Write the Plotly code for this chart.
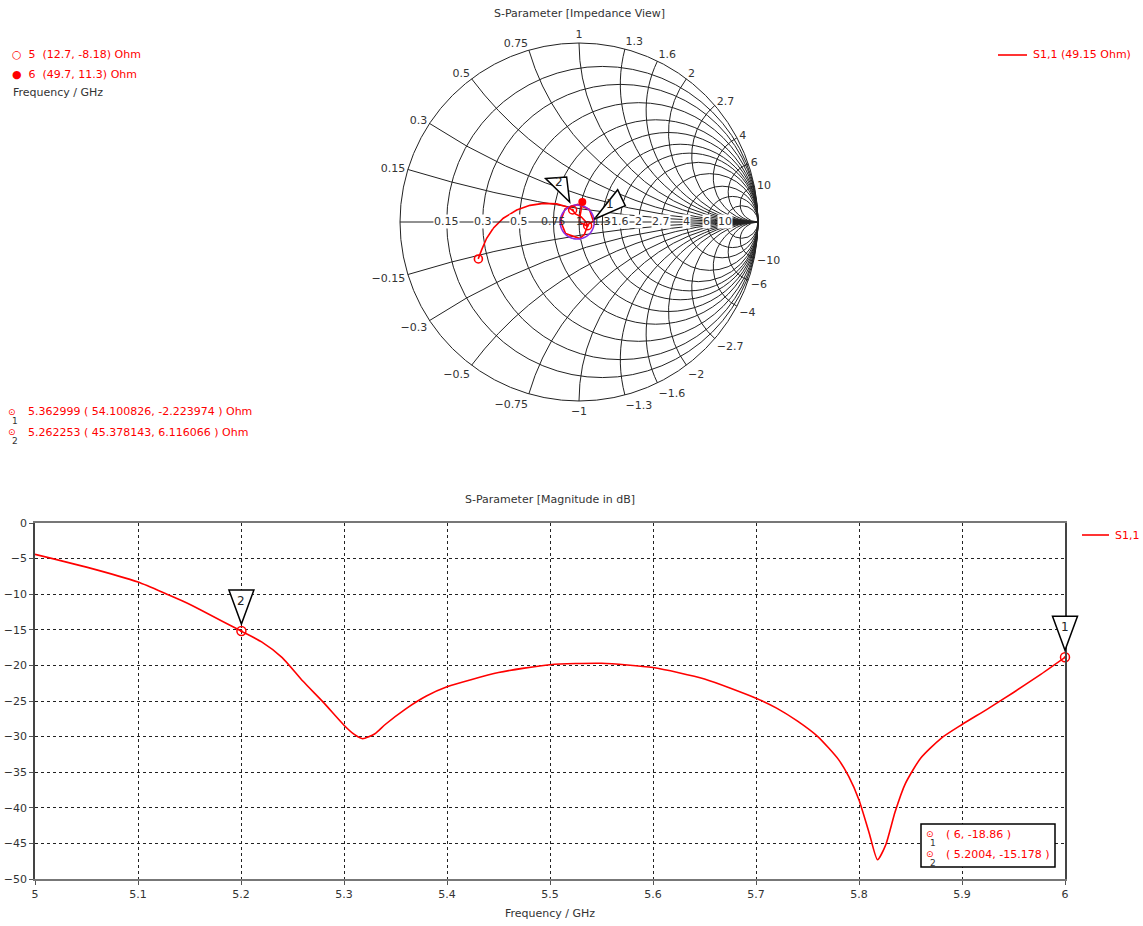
import numpy as np
import plotly.graph_objects as go

W, H = 1143, 926
Z_REF = 49.15
FONT = "DejaVu Sans"
TXT = "#333333"
RED = "#ff0000"

# ---- S1,1 magnitude in dB over the sweep ----
freq_ghz = [5.00, 5.05, 5.10, 5.128, 5.15, 5.20, 5.22, 5.24, 5.26, 5.28, 5.30,
            5.31, 5.318, 5.33, 5.34, 5.36, 5.38, 5.40, 5.45, 5.50, 5.55, 5.60,
            5.65, 5.70, 5.72, 5.74, 5.76, 5.78, 5.79, 5.80, 5.81, 5.818, 5.826,
            5.835, 5.845, 5.86, 5.88, 5.90, 5.925, 5.95, 5.975, 6.00]
s11_db = [-4.4, -6.2, -8.3, -10.0, -11.4, -15.18, -16.7, -18.9, -22.2, -25.2, -28.4,
          -29.7, -30.3, -29.6, -28.3, -26.1, -24.3, -23.0, -21.0, -19.9, -19.7, -20.3,
          -21.9, -24.6, -26.0, -27.8, -30.0, -33.2, -35.6, -38.9, -43.6, -47.3, -45.2,
          -40.6, -36.6, -33.0, -30.2, -28.3, -26.1, -23.8, -21.4, -18.86]

# ---- S1,1 reflection coefficient (real, imag) over the same sweep ----
s11_re = [-0.563, -0.544, -0.516, -0.479, -0.423, -0.348, -0.274, -0.199, -0.125,
          -0.069, -0.0355, -0.020, 0.012, 0.035, 0.048, 0.030, 0.005, -0.075,
          -0.103, -0.078, -0.008, 0.058, 0.080, 0.040, 0.010, 0.003, 0.005,
          0.010, 0.014, 0.018]
s11_im = [-0.206, -0.156, -0.091, -0.035, 0.021, 0.067, 0.093, 0.104, 0.101,
          0.085, 0.067, 0.045, 0.029, 0.005, -0.0205, -0.070, -0.092, -0.065,
          0.005, 0.073, 0.098, 0.070, 0.005, -0.020, -0.005, 0.002, 0.030,
          0.056, 0.085, 0.112]

# Smith chart grid values (normalized resistance / reactance)
smith_ticks = [0.15, 0.3, 0.5, 0.75, 1, 1.3, 1.6, 2, 2.7, 4, 6, 10]

# Start / end impedance markers (Ohm)
end_ids = ["5", "6"]
end_R = [12.7, 49.7]
end_X = [-8.18, 11.3]

# Smith chart markers
sm_ids = ["1", "2"]
sm_freq = [5.362999, 5.262253]
sm_R = [54.100826, 45.378143]
sm_X = [-2.223974, 6.116066]

# Magnitude chart markers
db_ids = ["1", "2"]
db_freq = [6.0, 5.2004]
db_val = [-18.86, -15.178]

# reflection-magnitude circle drawn around the match point
loop_gamma = 0.095


def px(x):
    return x / W


def py(y):
    return 1 - y / H


def gamma_to_z(g):
    g = np.asarray(g)
    return (1 + g) / (1 - g)


def label(x, y, text, color=TXT, size=11, xanchor="left", **kw):
    return dict(x=x, y=y, xref="paper", yref="paper", xanchor=xanchor, yanchor="middle",
                text=text, showarrow=False, font=dict(family=FONT, size=size, color=color),
                **kw)


# smith subplot placement (pixels)
SX0, SX1, SY0, SY1 = 400, 758, 43, 401
SCX, SCY, SR = (SX0 + SX1) / 2, (SY0 + SY1) / 2, (SX1 - SX0) / 2

# magnitude plot placement (pixels)
MX0, MX1, MY0, MY1 = 35, 1065, 523, 879
F_RANGE = [5, 6]
DB_RANGE = [-50, 0]

fig = go.Figure()

z_curve = gamma_to_z(np.array(s11_re) + 1j * np.array(s11_im))
fig.add_trace(go.Scattersmith(real=z_curve.real, imag=z_curve.imag, mode="lines",
                              line=dict(color=RED, width=1.6), subplot="smith",
                              showlegend=False))

ang = np.linspace(0, 2 * np.pi, 181)
z_loop = gamma_to_z(loop_gamma * np.exp(1j * ang) - 0.01)
fig.add_trace(go.Scattersmith(real=z_loop.real, imag=z_loop.imag, mode="lines",
                              line=dict(color="#8a2be2", width=1.6), subplot="smith",
                              showlegend=False))

zr_end = np.array(end_R) / Z_REF
zx_end = np.array(end_X) / Z_REF
fig.add_trace(go.Scattersmith(real=[zr_end[0]], imag=[zx_end[0]], mode="markers",
                              marker=dict(symbol="circle-open", size=8, color=RED,
                                          line=dict(width=1.6)),
                              subplot="smith", showlegend=False))
fig.add_trace(go.Scattersmith(real=[zr_end[1]], imag=[zx_end[1]], mode="markers",
                              marker=dict(symbol="circle", size=8, color=RED),
                              subplot="smith", showlegend=False))

zr_sm = np.array(sm_R) / Z_REF
zx_sm = np.array(sm_X) / Z_REF
fig.add_trace(go.Scattersmith(real=zr_sm, imag=zx_sm, mode="markers",
                              marker=dict(symbol="circle-open-dot", size=8, color=RED,
                                          line=dict(width=1.5)),
                              subplot="smith", showlegend=False))

# magnitude curve
fig.add_trace(go.Scatter(x=freq_ghz, y=s11_db, mode="lines",
                         line=dict(color=RED, width=1.6, shape="spline", smoothing=0.6),
                         showlegend=False, xaxis="x", yaxis="y"))
fig.add_trace(go.Scatter(x=db_freq, y=db_val, mode="markers",
                         marker=dict(symbol="circle-open-dot", size=9, color=RED,
                                     line=dict(width=1.5)),
                         showlegend=False, cliponaxis=False))

shapes = []
annotations = []

# resistance labels sitting on the real axis of the smith chart
# (the ones around the match point stay transparent so the traces there remain visible)
for r in smith_ticks:
    gr = (r - 1) / (r + 1)
    extra = dict(bgcolor="white", borderpad=0) if abs(gr) > 0.15 else {}
    annotations.append(label(px(SCX + gr * SR), py(SCY), f"{r:g}", xanchor="center",
                             **extra))

# mask for the infinity mark at the open-circuit point
shapes.append(dict(type="rect", xref="paper", yref="paper", x0=px(761), x1=px(778),
                   y0=py(231), y1=py(213), line=dict(width=0), fillcolor="white",
                   layer="above"))

# marker flags on the magnitude chart (anchored in paper space so they are not clipped)
for mid, f, v in zip(db_ids, db_freq, db_val):
    ax = px(MX0) + (f - F_RANGE[0]) / (F_RANGE[1] - F_RANGE[0]) * (px(MX1) - px(MX0))
    ay = py(MY1) + (v - DB_RANGE[0]) / (DB_RANGE[1] - DB_RANGE[0]) * (py(MY0) - py(MY1))
    shapes.append(dict(type="path", xref="paper", yref="paper", xsizemode="pixel",
                       ysizemode="pixel", xanchor=ax, yanchor=ay,
                       path="M -12.5,41 L 12.5,41 L 0,7 Z",
                       line=dict(color="black", width=1.5), fillcolor="white"))
    annotations.append(label(ax, ay, mid, color="#222", size=12, xanchor="center",
                             yshift=30))

# marker flags on the smith chart
g_sm = (zr_sm + 1j * zx_sm - 1) / (zr_sm + 1j * zx_sm + 1)
flag_paths = {"1": "M 6.6,6.4 L 30,36 L 37.6,20 Z", "2": "M -27,31.5 L -6,33 L -3,8 Z"}
flag_text = {"1": (22, 22), "2": (-14, 28)}
for mid, g in zip(sm_ids, g_sm):
    ax = px(SCX + g.real * SR)
    ay = py(SCY - g.imag * SR)
    shapes.append(dict(type="path", xref="paper", yref="paper", xsizemode="pixel",
                       ysizemode="pixel", xanchor=ax, yanchor=ay, path=flag_paths[mid],
                       line=dict(color="black", width=1.5), fillcolor="white"))
    dx, dy = flag_text[mid]
    annotations.append(label(ax, ay, mid, color="#222", size=12, xanchor="center",
                             xshift=dx, yshift=dy))

# legends
shapes.append(dict(type="line", xref="paper", yref="paper", x0=px(998), x1=px(1027),
                   y0=py(55), y1=py(55), line=dict(color=RED, width=1.6)))
annotations.append(label(px(1031), py(55), "S1,1 (49.15 Ohm)", color=RED))
shapes.append(dict(type="line", xref="paper", yref="paper", x0=px(1082), x1=px(1109),
                   y0=py(535), y1=py(535), line=dict(color=RED, width=1.6)))
annotations.append(label(px(1113), py(535), "S1,1", color=RED))

# start / end impedance list
end_syms = ["○", "●"]
for i, (mid, r, x) in enumerate(zip(end_ids, end_R, end_X)):
    annotations.append(label(px(10), py(55 + 19 * i),
                             f"{end_syms[i]}  {mid}  ({r:g}, {x:g}) Ohm", color=RED))
annotations.append(label(px(11), py(93), "Frequency / GHz"))

# smith marker list
for i, (mid, f, r, x) in enumerate(zip(sm_ids, sm_freq, sm_R, sm_X)):
    yy = 412 + 20 * i
    annotations.append(label(px(6), py(yy), "⊙", color=RED, size=9))
    annotations.append(label(px(10), py(yy + 9), mid, size=9))
    annotations.append(label(px(26), py(yy), f"{f:.6f} ( {r:.6f}, {x:.6f} ) Ohm",
                             color=RED))

# magnitude marker box
shapes.append(dict(type="rect", xref="paper", yref="paper", x0=px(921), x1=px(1055),
                   y0=py(867), y1=py(824), line=dict(color="black", width=1.5),
                   fillcolor="white", layer="above"))
for i, (mid, f, v) in enumerate(zip(db_ids, db_freq, db_val)):
    yy = 834 + 20 * i
    annotations.append(label(px(924), py(yy), "⊙", color=RED, size=9))
    annotations.append(label(px(928), py(yy + 9), mid, size=9))
    annotations.append(label(px(944), py(yy), f"( {f:g}, {v:g} )", color=RED))

# titles
annotations.append(label(px(579), py(14), "S-Parameter [Impedance View]", xanchor="center"))
annotations.append(label(px(550), py(500), "S-Parameter [Magnitude in dB]", xanchor="center"))
annotations.append(label(px(550), py(913), "Frequency / GHz", xanchor="center"))

imag_ticks = [-v for v in smith_ticks[::-1]] + smith_ticks

fig.update_layout(
    width=W, height=H, margin=dict(l=0, r=0, t=0, b=0, autoexpand=False),
    paper_bgcolor="white", plot_bgcolor="white",
    font=dict(family=FONT, size=11, color=TXT),
    smith=dict(
        domain=dict(x=[px(SX0), px(SX1)], y=[py(SY1), py(SY0)]),
        bgcolor="white",
        realaxis=dict(tickvals=smith_ticks, showticklabels=False, ticks="",
                      gridcolor="#222", linecolor="#222", showline=True),
        imaginaryaxis=dict(tickvals=imag_ticks, gridcolor="#222", linecolor="#222",
                           tickfont=dict(family=FONT, size=11, color=TXT)),
    ),
    xaxis=dict(domain=[px(MX0), px(MX1)], range=F_RANGE, automargin=False,
               tickvals=[5 + 0.1 * k for k in range(11)],
               ticktext=["5", "5.1", "5.2", "5.3", "5.4", "5.5", "5.6", "5.7", "5.8", "5.9", "6"],
               showgrid=True, gridcolor="#222", griddash="dot", gridwidth=1,
               showline=True, linecolor="#777", linewidth=2, mirror=True,
               ticks="outside", ticklen=4, tickcolor="#555", zeroline=False),
    yaxis=dict(domain=[py(MY1), py(MY0)], range=DB_RANGE, dtick=5, automargin=False,
               showgrid=True, gridcolor="#222", griddash="dot", gridwidth=1,
               showline=True, linecolor="#444", linewidth=1.5, mirror=True,
               ticks="outside", ticklen=4, tickcolor="#555", zeroline=False),
    shapes=shapes, annotations=annotations,
)

fig.write_html("out.html")
